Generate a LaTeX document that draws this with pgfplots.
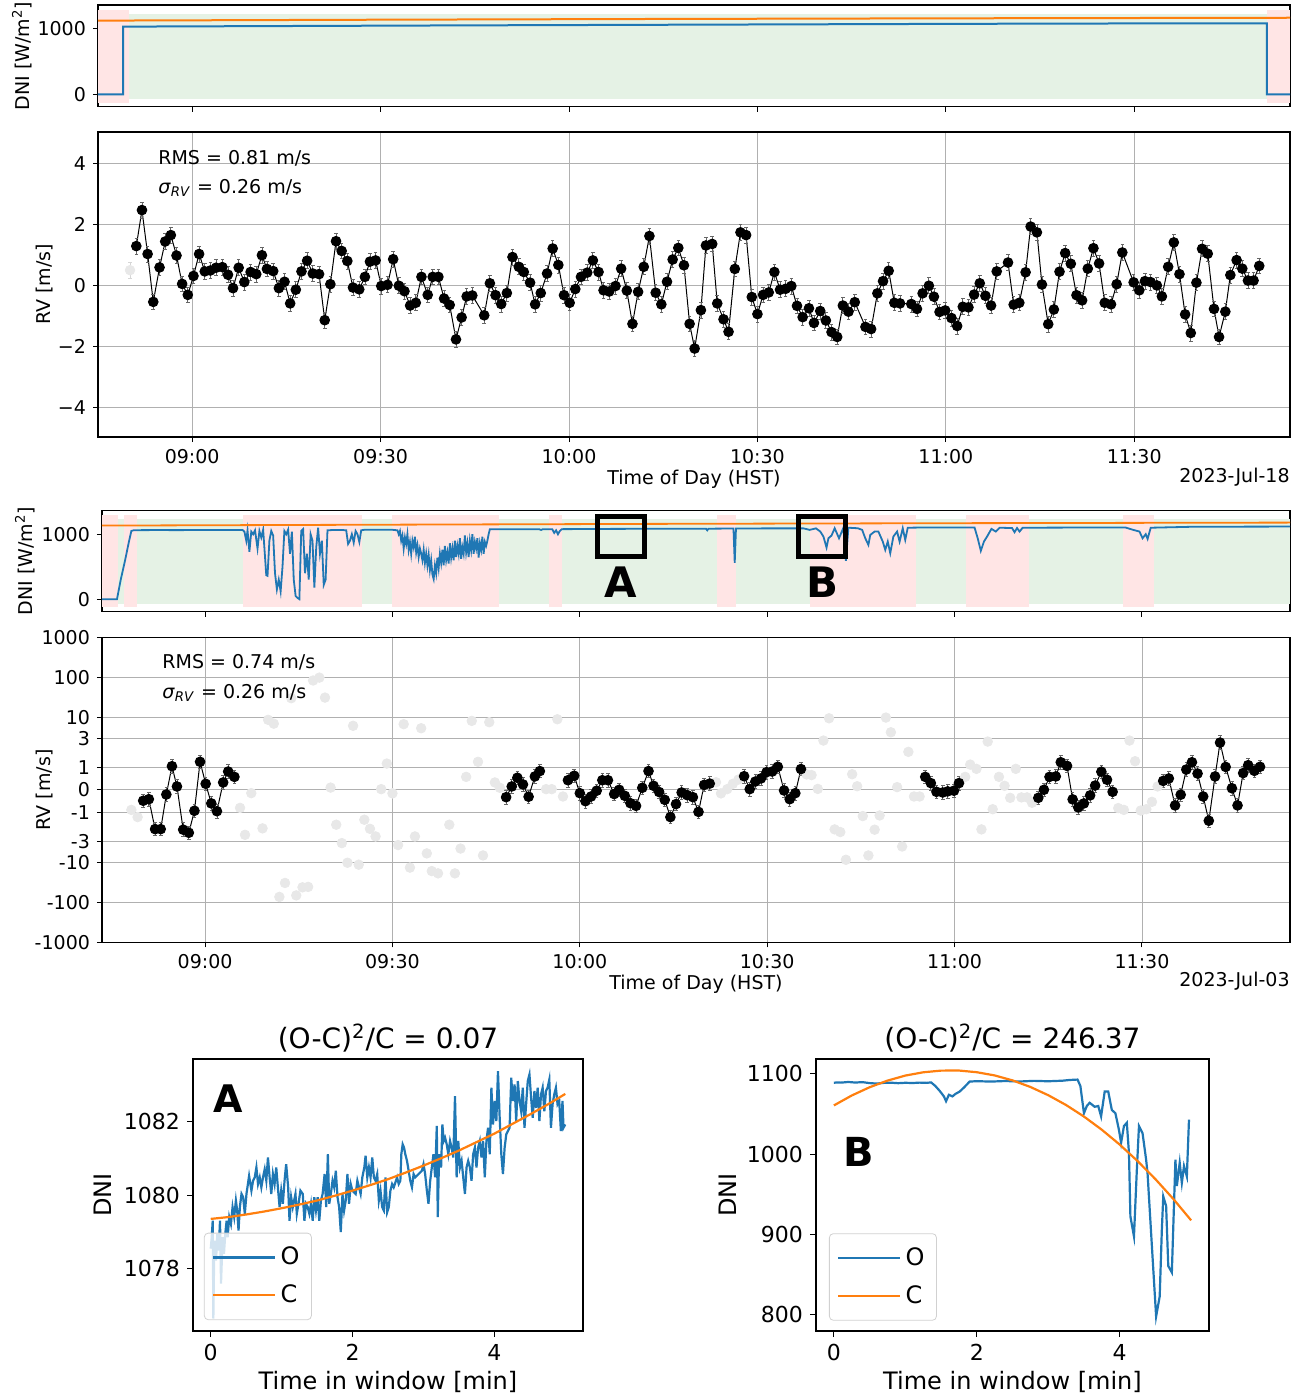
\documentclass[border=0pt]{standalone}
\usepackage{fontspec}
\setmainfont{DejaVu Sans}
\usepackage{pgfplots}
\pgfplotsset{compat=1.18}
\definecolor{mplblue}{HTML}{1F77B4}
\definecolor{mplorange}{HTML}{FF7F0E}
\definecolor{bandred}{HTML}{FFE5E5}
\definecolor{bandgreen}{HTML}{E5F2E5}
\definecolor{gridgray}{HTML}{B0B0B0}
\pgfplotsset{
  mpl/.style={scale only axis, anchor=north west, axis line style={line width=0.6pt},
    tick align=outside, major tick length=2.5pt, tick style={black, line width=0.5pt},
    xtick pos=bottom, ytick pos=left,
    tick label style={font=\fontsize{9.5}{11}\selectfont},
    label style={font=\fontsize{9.5}{11}\selectfont},
    /pgf/number format/assume math mode=true, /pgf/number format/1000 sep={},
    grid style={gridgray, line width=0.4pt}},
  timeax/.style={xtick={60,90,120,150,180,210}},
  timelab/.style={xticklabels={09:00,09:30,10:00,10:30,11:00,11:30}},
  mplb/.style={scale only axis, anchor=north west, axis line style={line width=0.6pt},
    tick align=outside, major tick length=3pt, tick style={black, line width=0.5pt},
    xtick pos=bottom, ytick pos=left,
    tick label style={font=\fontsize{11}{13}\selectfont},
    label style={font=\fontsize{12}{14}\selectfont},
    title style={font=\fontsize{14}{16}\selectfont},
    /pgf/number format/assume math mode=true, /pgf/number format/1000 sep={},
    legend cell align=left,
    legend image code/.code={\draw[##1, line width=1pt] (0pt,0pt) -- (25pt,0pt); \path (0pt,0pt) -- (31pt,0pt);},
    legend style={anchor=south west, draw=black!18, rounded corners=2pt, fill=white,
      fill opacity=0.8, text opacity=1, font=\fontsize{12}{14}\selectfont,
      row sep=4.5pt, inner xsep=4pt, inner ysep=5pt}},
  rvpt/.style={black, line width=0.5pt, mark=*, mark size=2.4pt, mark options={solid, fill=black},
    error bars/.cd, y dir=both, y fixed=#1,
    error bar style={black!60, line width=0.4pt},
    error mark options={rotate=90, black!60, mark size=0.9pt, line width=0.4pt}, /pgfplots/.cd},
  rvpt/.default=0.26,
  graypt/.style={only marks, black!9, mark=*, mark size=2.4pt, mark options={fill=black!9, draw=black!9},
    error bars/.cd, y dir=both, y fixed=#1,
    error bar style={black!16, line width=0.4pt},
    error mark options={rotate=90, black!16, mark size=0.8pt}, /pgfplots/.cd},
  graypt/.default=0.26,
}
\begin{document}
\begin{tikzpicture}
\path[use as bounding box] (0,0) rectangle (652pt,-699.5pt);

% ---------------- DNI 2023-Jul-18 ----------------
\begin{axis}[mpl, timeax, xticklabels={}, at={(49pt,-2.5pt)}, width=596pt, height=50.85pt,
  xmin=45, xmax=234.8, ymin=-190, ymax=1367, ytick={0,1000}, yticklabels={0,1000},
  ylabel={DNI [W/m\textsuperscript{2}]},
  ylabel style={at={(axis description cs:-0.0638,0.5)}, anchor=center}]
\addplot[fill=bandred, draw=none] coordinates {(45,-128) (45,1291) (50.0,1291) (50.0,-128)} -- cycle;
\addplot[fill=bandgreen, draw=none] coordinates {(50.0,-72) (50.0,1230) (231.1,1230) (231.1,-72)} -- cycle;
\addplot[fill=bandred, draw=none] coordinates {(231.1,-128) (231.1,1291) (234.8,1291) (234.8,-128)} -- cycle;
\addplot[mplblue, line width=1pt] coordinates {(45,0) (49.0,0) (49.0,1036) (60,1040) (80,1047) (100,1054) (120,1060) (140,1066) (160,1072) (180,1078) (200,1083) (220,1086) (231.1,1087) (231.1,0) (234.8,0)};
\addplot[mplorange, line width=1pt] coordinates {(45,1128) (90,1142) (133,1153) (180,1163) (234.8,1172)};
\end{axis}

% ---------------- RV 2023-Jul-18 ----------------
\begin{axis}[mpl, timeax, timelab, at={(49pt,-66pt)}, width=596pt, height=152.5pt,
  xmin=45, xmax=234.8, ymin=-4.97, ymax=5.03, clip=false,
  ytick={-4,-2,0,2,4}, yticklabels={−4,−2,0,2,4}, grid=major,
  ylabel={RV [m/s]}, ylabel style={at={(axis description cs:-0.0445,0.5)}, anchor=center},
  xlabel={Time of Day (HST)}, xlabel style={at={(axis description cs:0.5,-0.140)}, anchor=center}]
\addplot[graypt] coordinates {(50.1,0.50)};
\addplot[rvpt] table {
t v
51.1 1.29
52.0 2.47
52.9 1.03
53.8 -0.54
54.8 0.59
55.7 1.44
56.6 1.65
57.5 0.98
58.4 0.05
59.3 -0.31
60.2 0.31
61.1 1.03
62.0 0.46
62.9 0.49
63.8 0.58
64.8 0.60
65.7 0.35
66.5 -0.09
67.4 0.58
68.3 0.11
69.3 0.44
70.2 0.37
71.1 0.99
71.9 0.54
72.9 0.47
73.8 -0.09
74.7 0.12
75.6 -0.59
76.5 -0.14
77.4 0.46
78.3 0.81
79.2 0.39
80.2 0.37
81.1 -1.14
82.0 0.04
82.9 1.45
83.8 1.13
84.7 0.80
85.6 -0.07
86.6 -0.13
87.5 0.28
88.3 0.78
89.2 0.82
90.1 -0.02
91.1 0.02
92.0 0.86
92.9 -0.01
93.8 -0.19
94.7 -0.66
95.6 -0.57
96.5 0.28
97.5 -0.31
98.3 0.28
99.2 0.28
100.1 -0.43
101.0 -0.64
102.0 -1.77
102.9 -1.05
103.7 -0.36
104.6 -0.33
106.5 -0.98
107.4 0.07
108.3 -0.32
109.2 -0.61
110.1 -0.25
111.0 0.93
112.0 0.61
112.8 0.44
113.8 0.09
114.6 -0.62
115.5 -0.25
116.5 0.39
117.4 1.21
118.3 0.67
119.2 -0.32
120.1 -0.57
121.0 -0.12
121.9 0.28
122.9 0.42
123.8 0.82
124.7 0.44
125.5 -0.16
126.4 -0.20
127.4 -0.02
128.3 0.55
129.2 -0.17
130.1 -1.26
131.0 -0.21
131.9 0.61
132.8 1.62
133.8 -0.24
134.7 -0.62
135.6 0.12
136.5 0.85
137.4 1.23
138.3 0.66
139.2 -1.26
140.0 -2.07
141.0 -0.81
141.8 1.31
142.8 1.36
143.6 -0.59
144.6 -1.11
145.4 -1.52
146.4 0.54
147.3 1.74
148.2 1.65
149.1 -0.38
150.0 -0.94
150.9 -0.31
151.8 -0.23
152.7 0.44
153.6 -0.14
154.5 -0.11
155.4 -0.02
156.3 -0.67
157.2 -1.04
158.2 -0.75
159.0 -1.23
160.0 -0.84
160.9 -1.15
161.8 -1.53
162.7 -1.69
163.6 -0.66
164.5 -0.86
165.5 -0.55
167.2 -1.36
168.1 -1.43
169.1 -0.26
170.0 0.14
170.9 0.48
171.8 -0.57
172.7 -0.59
174.5 -0.61
175.4 -0.77
176.3 -0.26
177.3 -0.01
178.1 -0.37
179.0 -0.87
179.9 -0.82
180.9 -1.07
181.8 -1.33
182.7 -0.70
183.6 -0.72
184.5 -0.30
185.4 0.07
186.3 -0.34
187.2 -0.66
188.1 0.46
189.9 0.75
190.8 -0.63
191.7 -0.57
192.7 0.43
193.5 1.93
194.5 1.74
195.3 0.03
196.3 -1.27
197.2 -0.79
198.1 0.45
199.0 1.06
199.9 0.71
200.8 -0.32
201.7 -0.49
202.6 0.55
203.5 1.22
204.4 0.72
205.3 -0.57
206.3 -0.62
207.2 0.04
208.1 1.08
209.9 0.10
210.8 -0.16
211.7 0.14
212.6 0.11
213.6 0.00
214.4 -0.36
215.4 0.61
216.3 1.41
217.2 0.37
218.1 -0.95
219.0 -1.56
219.9 0.09
220.8 1.20
221.7 1.04
222.7 -0.77
223.5 -1.69
224.5 -0.86
225.3 0.34
226.3 0.83
227.2 0.55
228.1 0.16
229.0 0.16
229.9 0.64
};
\node[anchor=west, inner xsep=0pt, font=\fontsize{9.5}{11}\selectfont] at (axis description cs:0.0503,0.915) {RMS = 0.81 m/s};
\node[anchor=west, inner xsep=0pt, font=\fontsize{9.5}{11}\selectfont] at (axis description cs:0.0503,0.817) {\textit{σ}\textsubscript{\textit{RV}} = 0.26 m/s};
\node[anchor=east, inner xsep=0pt, font=\fontsize{9.5}{11}\selectfont] at (axis description cs:1,-0.131) {2023-Jul-18};
\end{axis}

% ---------------- DNI 2023-Jul-03 ----------------
\begin{axis}[mpl, timeax, xticklabels={}, at={(51pt,-255.35pt)}, width=594pt, height=50.5pt,
  xmin=43.5, xmax=233.7, ymin=-193, ymax=1362, clip=false, ytick={0,1000}, yticklabels={0,1000},
  ylabel={DNI [W/m\textsuperscript{2}]},
  ylabel style={at={(axis description cs:-0.0648,0.5)}, anchor=center}]
\addplot[fill=bandred, draw=none] coordinates {(43.5,-122) (43.5,1291) (46.1,1291) (46.1,-122)} -- cycle;
\addplot[fill=bandred, draw=none] coordinates {(47.0,-122) (47.0,1291) (49.1,1291) (49.1,-122)} -- cycle;
\addplot[fill=bandred, draw=none] coordinates {(66.0,-122) (66.0,1291) (85.1,1291) (85.1,-122)} -- cycle;
\addplot[fill=bandred, draw=none] coordinates {(90.0,-122) (90.0,1291) (107.0,1291) (107.0,-122)} -- cycle;
\addplot[fill=bandred, draw=none] coordinates {(115.0,-122) (115.0,1291) (117.1,1291) (117.1,-122)} -- cycle;
\addplot[fill=bandred, draw=none] coordinates {(141.9,-122) (141.9,1291) (145.0,1291) (145.0,-122)} -- cycle;
\addplot[fill=bandred, draw=none] coordinates {(156.9,-122) (156.9,1291) (173.9,1291) (173.9,-122)} -- cycle;
\addplot[fill=bandred, draw=none] coordinates {(181.9,-122) (181.9,1291) (191.9,1291) (191.9,-122)} -- cycle;
\addplot[fill=bandred, draw=none] coordinates {(206.9,-122) (206.9,1291) (211.9,1291) (211.9,-122)} -- cycle;
\addplot[fill=bandgreen, draw=none] coordinates {(46.1,-72) (46.1,1230) (47.0,1230) (47.0,-72)} -- cycle;
\addplot[fill=bandgreen, draw=none] coordinates {(49.1,-72) (49.1,1230) (66.0,1230) (66.0,-72)} -- cycle;
\addplot[fill=bandgreen, draw=none] coordinates {(85.1,-72) (85.1,1230) (90.0,1230) (90.0,-72)} -- cycle;
\addplot[fill=bandgreen, draw=none] coordinates {(107.0,-72) (107.0,1230) (115.0,1230) (115.0,-72)} -- cycle;
\addplot[fill=bandgreen, draw=none] coordinates {(117.1,-72) (117.1,1230) (141.9,1230) (141.9,-72)} -- cycle;
\addplot[fill=bandgreen, draw=none] coordinates {(145.0,-72) (145.0,1230) (156.9,1230) (156.9,-72)} -- cycle;
\addplot[fill=bandgreen, draw=none] coordinates {(173.9,-72) (173.9,1230) (181.9,1230) (181.9,-72)} -- cycle;
\addplot[fill=bandgreen, draw=none] coordinates {(191.9,-72) (191.9,1230) (206.9,1230) (206.9,-72)} -- cycle;
\addplot[fill=bandgreen, draw=none] coordinates {(211.9,-72) (211.9,1230) (233.7,1230) (233.7,-72)} -- cycle;
\addplot[mplblue, line width=0.9pt] table {
t d
43.5 0
45.9 0
46.5 300
47.2 600
47.8 880
48.2 1050
48.6 1062
52 1064
56 1063
60 1066
63 1065
66.0 1066
66.3 1040
66.6 900
66.8 1060
67.1 730
67.4 1040
67.7 1000
68.0 1060
68.4 780
68.7 1050
69.0 950
69.3 1070
69.6 650
69.8 370
70.0 360
70.3 900
70.6 1050
70.9 980
71.2 400
71.5 150
71.8 300
72.1 120
72.4 500
72.7 1050
73.0 1000
73.3 1070
73.6 700
73.9 1040
74.2 300
74.5 50
74.8 20
75.1 0
75.4 1050
75.7 1080
76.0 400
76.3 700
76.6 300
76.9 1000
77.2 900
77.5 180
77.8 800
78.1 1100
78.4 700
78.7 900
79.0 220
79.3 300
79.6 1060
80.5 1065
82.0 1065
82.6 1060
82.9 850
83.2 900
83.5 1000
83.8 870
84.1 1050
84.4 1000
84.7 880
85.0 1060
85.5 1068
90.0 1068
90.8 1060
91.0 1000
91.2 1050
91.4 900
91.6 980
91.8 780
92.0 950
92.2 850
92.4 1000
92.6 760
92.8 880
93.0 700
93.2 900
93.4 800
93.6 960
93.8 720
94.0 830
94.2 650
94.4 780
94.6 700
94.8 600
95.0 760
95.2 560
95.4 700
95.6 520
95.8 680
96.0 450
96.2 600
96.4 380
96.6 310
96.8 520
97.0 400
97.2 640
97.4 480
97.6 700
97.8 560
98.0 760
98.2 520
98.4 820
98.6 600
98.8 720
99.0 550
99.2 860
99.4 640
99.6 780
99.8 600
100.0 900
100.2 650
100.4 820
100.6 700
100.8 940
101.0 620
101.2 800
101.4 700
101.6 980
101.8 720
102.0 860
102.2 650
102.4 900
102.6 760
102.8 1000
103.0 700
103.2 880
103.4 780
103.6 940
103.8 640
104.0 860
104.2 760
104.4 960
104.6 700
104.8 880
105.0 820
105.2 900
105.4 1000
105.6 1078
110 1078
113.5 1077
113.8 1065
114.1 1078
115.6 1076
115.9 1020
116.2 1060
116.5 1000
116.8 1050
117.1 1078
125 1082
135 1085
140.2 1085
140.4 1060
140.6 1085
144.6 1088
144.8 560
145.0 1088
150 1090
155.8 1090
156.8 1067
157.8 1090
158.5 1041
159.0 964
159.5 795
159.8 938
160.3 980
160.8 1092
161.5 938
162.2 1100
162.6 590
163.0 1100
164.5 1092
165.2 1067
165.7 938
166.2 836
166.5 990
167.2 1041
167.8 1041
168.5 887
168.9 759
169.3 887
169.7 708
170.2 964
170.8 1041
171.2 887
171.7 1092
172.1 913
172.5 1100
173.9 1102
183.2 1102
183.7 938
184.2 744
184.7 887
185.2 964
185.9 1082
186.6 1041
187.2 1100
189.2 1095
189.6 1031
190.0 1095
190.4 1041
190.9 1100
207.3 1105
208.6 1067
209.6 1041
210.1 938
210.6 1000
210.9 928
211.4 1100
218.2 1115
233.7 1118
};
\addplot[mplorange, line width=0.9pt] coordinates {(43.5,1133) (90,1147) (131,1159) (180,1170) (233.7,1179)};
\draw[line width=2.5pt] (axis cs:122.8,657) rectangle (axis cs:130.3,1273);
\draw[line width=2.5pt] (axis cs:155.0,657) rectangle (axis cs:162.5,1273);
\node[font=\fontsize{21}{24}\selectfont\bfseries] at (axis cs:126.6,264) {A};
\node[font=\fontsize{21}{24}\selectfont\bfseries] at (axis cs:158.8,264) {B};
\end{axis}

% ---------------- RV 2023-Jul-03 (custom symmetric scale) ----------------
\begin{axis}[mpl, timeax, timelab, name=rvb, at={(51pt,-318.65pt)}, width=594pt, height=152.5pt,
  xmin=43.5, xmax=233.7, ymin=-1000, ymax=1000, clip=false,
  y coord trafo/.code={\pgfmathparse{((#1>0)-(#1<0))*((abs(#1)<1.000001)*0.558*abs(#1)+(1-(abs(#1)<1.000001))*(abs(#1)<3.000001)*(0.558+0.3667*(abs(#1)-1))+(1-(abs(#1)<3.000001))*(0.4342945*ln(max(abs(#1),3))+0.8167))}},
  ytick={-1000,-100,-10,-3,-1,0,1,3,10,100,1000},
  yticklabels={-1000,-100,-10,-3,-1,0,1,3,10,100,1000}, grid=major,
  ylabel={RV [m/s]}, ylabel style={at={(axis description cs:-0.048,0.5)}, anchor=center},
  xlabel={Time of Day (HST)}, xlabel style={at={(axis description cs:0.5,-0.136)}, anchor=center}]
\addplot[graypt=0.09] table {
t v
48.2 -0.90
49.2 -1.34
65.6 -0.81
66.4 -2.55
67.4 -0.15
69.2 -2.11
70.1 8.6
71.0 6.9
71.9 -73
72.8 -32.7
73.8 29.9
74.6 -67
75.6 -42
76.5 -41
77.3 83
78.3 98
79.2 31
80.1 0.10
81.0 -1.86
81.9 -3.29
82.8 -10.2
83.7 6.1
84.6 -11.4
85.5 -1.52
86.4 -2.14
87.3 -2.66
88.2 0.03
89.1 1.27
90.0 -0.16
90.9 -3.68
91.8 6.7
92.8 -13.5
93.6 -2.66
94.6 5.3
95.5 -5.95
96.3 -16.5
97.3 -18.8
99.1 -1.86
100.0 -18.8
100.9 -4.5
101.8 0.58
102.7 8.1
103.7 1.39
104.5 -6.7
105.5 7.5
106.4 0.33
107.2 0.09
114.6 0.03
115.5 0.03
116.4 8.9
117.3 -0.30
141.8 0.34
142.6 -0.16
143.6 0.03
144.5 0.27
145.4 0.46
156.3 0.69
157.1 0.66
158.1 0.04
159.0 2.84
159.9 9.4
160.8 -2.18
161.7 -2.36
162.6 -8.6
163.6 0.70
164.4 0.16
165.3 -1.27
166.2 -6.7
167.2 -2.20
168.0 -1.23
169.0 9.8
169.8 4.2
170.8 0.12
171.6 -4.0
172.6 2.07
173.5 -0.30
174.4 -0.30
181.7 0.58
182.5 1.2
183.5 0.94
184.3 -2.18
185.3 2.77
186.1 -0.87
187.1 0.58
188.0 0.18
188.9 -0.36
189.8 0.94
190.7 -0.34
191.6 -0.34
192.4 -0.58
206.2 -0.82
207.1 -0.90
208.0 2.84
208.9 1.43
209.8 -0.93
210.7 -0.87
211.6 -0.54
212.5 0.15
};
\addplot[rvpt=0.17] coordinates {(50.1,-0.49) (51.0,-0.42) (52.0,-2.16) (52.9,-2.16) (53.8,-0.21) (54.7,1.09) (55.5,0.15) (56.5,-2.20) (57.4,-2.41) (58.3,-0.94) (59.2,1.39) (60.1,0.27) (61.0,-0.61) (61.9,-0.96) (62.9,0.33) (63.7,0.82) (64.7,0.58)};
\addplot[rvpt=0.17] coordinates {(108.2,-0.33) (109.1,0.15) (110.0,0.54) (110.9,0.24) (111.8,-0.31) (112.8,0.60) (113.6,0.84)};
\addplot[rvpt=0.17] coordinates {(118.1,0.43) (119.1,0.63) (120.0,-0.15) (120.9,-0.51) (121.8,-0.30) (122.7,-0.04) (123.6,0.43) (124.5,0.43) (125.5,-0.19) (126.3,0.0) (127.2,-0.27) (128.1,-0.60) (129.0,-0.72) (130.0,0.09) (131.0,0.84) (131.8,0.18) (132.7,-0.10) (133.6,-0.45) (134.5,-1.34) (135.4,-0.64) (136.3,-0.12) (137.2,-0.24) (138.1,-0.33) (139.0,-0.99) (139.9,0.22) (140.8,0.28)};
\addplot[rvpt=0.17] coordinates {(146.3,0.61) (147.2,0.03) (148.1,0.37) (149.0,0.51) (149.9,0.79) (150.8,0.82) (151.7,1.05) (152.7,-0.03) (153.6,-0.42) (154.5,-0.15) (155.4,0.93)};
\addplot[rvpt=0.17] coordinates {(175.3,0.58) (176.2,0.30) (177.1,-0.09) (178.1,-0.12) (178.9,-0.07) (179.9,-0.04) (180.7,0.30)};
\addplot[rvpt=0.17] coordinates {(193.4,-0.36) (194.3,0.0) (195.2,0.58) (196.2,0.60) (197.0,1.36) (198.0,1.11) (198.9,-0.43) (199.8,-0.79) (200.7,-0.61) (201.7,-0.25) (202.5,0.19) (203.5,0.81) (204.4,0.45) (205.3,-0.09)};
\addplot[rvpt=0.17] coordinates {(213.4,0.40) (214.3,0.51) (215.3,-0.70) (216.2,-0.22) (217.1,0.91) (218.0,1.36) (218.9,0.73) (219.8,-0.30) (220.7,-1.59) (221.7,0.60) (222.5,2.70) (223.4,1.04) (224.4,0.07) (225.3,-0.70) (226.2,0.75) (227.0,1.16) (228.0,0.85) (228.9,1.05)};
\node[anchor=east, inner xsep=0pt, font=\fontsize{9.5}{11}\selectfont] at (axis description cs:1,-0.127) {2023-Jul-03};
\end{axis}
\node[anchor=west, inner xsep=0pt, font=\fontsize{9.5}{11}\selectfont] at ([xshift=30pt, yshift=-12.5pt]rvb.north west) {RMS = 0.74 m/s};
\node[anchor=west, inner xsep=0pt, font=\fontsize{9.5}{11}\selectfont] at ([xshift=30pt, yshift=-27.9pt]rvb.north west) {\textit{σ}\textsubscript{\textit{RV}} = 0.26 m/s};

% ---------------- Window A ----------------
\begin{axis}[mplb, at={(96.5pt,-529.5pt)}, width=195pt, height=136pt,
  xmin=-0.25, xmax=5.25, ymin=1076.3, ymax=1083.7, xtick={0,2,4}, ytick={1078,1080,1082},
  xlabel={Time in window [min]}, xlabel style={at={(axis description cs:0.5,-0.1875)}, anchor=center},
  ylabel={DNI}, ylabel style={at={(axis description cs:-0.231,0.5)}, anchor=center},
  title={(O-C)\textsuperscript{2}/C = 0.07}, title style={at={(axis description cs:0.5,1.077)}, anchor=center, yshift=-6pt},
  legend style={at={(0.028,0.04)}}]
\addplot[mplblue, line width=1.1pt] table {
t d
0.000 1078.54
0.014 1078.85
0.028 1079.30
0.037 1076.64
0.051 1078.76
0.075 1078.22
0.093 1078.94
0.112 1078.49
0.131 1079.30
0.145 1077.59
0.168 1078.85
0.187 1078.40
0.205 1078.94
0.224 1079.30
0.238 1078.85
0.261 1079.40
0.285 1079.21
0.308 1079.67
0.331 1079.40
0.355 1079.85
0.373 1079.58
0.392 1079.03
0.411 1079.67
0.434 1080.03
0.457 1079.94
0.481 1079.49
0.504 1080.03
0.541 1080.52
0.574 1080.12
0.597 1080.39
0.621 1080.48
0.644 1080.75
0.667 1080.30
0.691 1080.48
0.714 1080.21
0.737 1080.48
0.761 1080.70
0.784 1080.39
0.807 1081.02
0.831 1080.48
0.854 1080.03
0.877 1080.57
0.901 1080.30
0.924 1080.75
0.947 1080.21
0.971 1079.67
0.994 1080.12
1.017 1079.76
1.041 1080.39
1.064 1080.84
1.092 1080.21
1.111 1079.30
1.134 1079.94
1.157 1079.67
1.195 1080.03
1.214 1079.49
1.241 1079.80
1.265 1080.12
1.298 1080.03
1.321 1079.30
1.344 1079.76
1.368 1079.67
1.391 1079.49
1.414 1079.76
1.438 1079.30
1.461 1079.94
1.484 1079.58
1.508 1079.94
1.531 1079.30
1.554 1079.85
1.578 1080.03
1.606 1080.57
1.629 1079.67
1.652 1081.11
1.671 1079.76
1.694 1080.03
1.718 1080.39
1.741 1080.21
1.764 1080.66
1.788 1079.94
1.811 1079.67
1.834 1078.99
1.858 1080.03
1.881 1079.58
1.904 1079.85
1.928 1080.57
1.951 1079.76
1.974 1080.30
1.998 1080.12
2.044 1080.03
2.068 1080.39
2.091 1080.21
2.114 1080.03
2.138 1080.48
2.166 1080.75
2.184 1081.07
2.208 1080.48
2.231 1080.75
2.254 1080.48
2.278 1081.02
2.301 1080.48
2.324 1080.39
2.348 1080.57
2.371 1079.85
2.394 1080.12
2.418 1079.67
2.441 1079.58
2.464 1080.48
2.488 1079.53
2.511 1079.67
2.534 1080.12
2.558 1080.30
2.581 1080.21
2.604 1080.34
2.628 1080.48
2.651 1080.30
2.674 1080.39
2.688 1081.11
2.707 1081.38
2.726 1081.29
2.744 1081.11
2.768 1080.93
2.791 1080.66
2.814 1080.39
2.838 1080.21
2.861 1080.57
2.884 1080.48
2.931 1080.57
2.978 1080.66
3.001 1080.84
3.024 1080.57
3.048 1080.12
3.071 1079.76
3.095 1080.39
3.118 1080.75
3.141 1081.11
3.165 1080.48
3.188 1081.88
3.202 1079.40
3.221 1081.11
3.249 1080.75
3.267 1081.92
3.286 1081.47
3.305 1081.56
3.328 1081.38
3.351 1081.11
3.375 1081.47
3.398 1081.29
3.421 1081.02
3.445 1082.69
3.468 1080.48
3.491 1081.47
3.515 1080.75
3.538 1080.93
3.561 1080.48
3.585 1080.03
3.608 1080.75
3.631 1080.93
3.655 1080.75
3.678 1080.39
3.701 1081.11
3.725 1081.29
3.748 1080.75
3.771 1081.29
3.795 1081.47
3.818 1081.02
3.841 1081.47
3.865 1080.48
3.888 1081.47
3.911 1081.83
3.935 1081.11
3.958 1082.92
3.981 1081.92
4.005 1082.56
4.028 1082.01
4.051 1083.37
4.075 1082.10
4.098 1081.11
4.121 1080.57
4.145 1081.29
4.168 1081.65
4.191 1081.74
4.215 1081.83
4.238 1083.19
4.261 1082.56
4.285 1083.01
4.308 1082.01
4.331 1083.10
4.355 1082.56
4.378 1082.28
4.401 1082.92
4.425 1081.83
4.448 1082.47
4.471 1083.10
4.495 1083.28
4.518 1082.65
4.541 1082.10
4.565 1082.83
4.588 1082.37
4.611 1082.92
4.635 1082.01
4.658 1082.74
4.681 1082.92
4.705 1082.28
4.728 1082.83
4.751 1082.92
4.775 1083.14
4.798 1081.83
4.821 1082.47
4.845 1082.74
4.868 1082.92
4.891 1082.47
4.915 1082.56
4.938 1081.74
4.961 1082.56
4.975 1081.83
5.000 1081.92
};
\addlegendentry{O}
\addplot[mplorange, line width=1.1pt] coordinates {(0,1079.35) (0.25,1079.40) (0.5,1079.47) (0.75,1079.55) (1.0,1079.64) (1.25,1079.74) (1.5,1079.85) (1.75,1079.98) (2.0,1080.12) (2.25,1080.27) (2.5,1080.43) (2.75,1080.61) (3.0,1080.80) (3.25,1081.00) (3.5,1081.21) (3.75,1081.44) (4.0,1081.67) (4.25,1081.93) (4.5,1082.19) (4.75,1082.46) (5.0,1082.75)};
\addlegendentry{C}
\node[font=\fontsize{19}{22}\selectfont\bfseries] at (axis cs:0.244,1082.61) {A};
\end{axis}

% ---------------- Window B ----------------
\begin{axis}[mplb, at={(408pt,-529.5pt)}, width=196.5pt, height=136pt,
  xmin=-0.25, xmax=5.25, ymin=778.8, ymax=1118.7, xtick={0,2,4}, ytick={800,900,1000,1100},
  xlabel={Time in window [min]}, xlabel style={at={(axis description cs:0.5,-0.1875)}, anchor=center},
  ylabel={DNI}, ylabel style={at={(axis description cs:-0.224,0.5)}, anchor=center},
  title={(O-C)\textsuperscript{2}/C = 246.37}, title style={at={(axis description cs:0.5,1.077)}, anchor=center, yshift=-6pt},
  legend style={at={(0.033,0.038)}}]
\addplot[mplblue, line width=1.1pt] table {
t d
0.00 1089.0
0.05 1089.5
0.10 1089.2
0.20 1090.0
0.30 1089.3
0.40 1089.8
0.50 1088.6
0.60 1088.0
0.70 1088.9
0.80 1089.1
0.90 1088.5
1.00 1089.0
1.10 1088.7
1.20 1089.2
1.30 1088.9
1.36 1089.5
1.42 1085
1.48 1079
1.54 1072
1.57 1066
1.61 1074
1.66 1072
1.70 1075
1.76 1078
1.82 1083
1.90 1090.5
2.00 1091
2.20 1090.5
2.40 1091.2
2.60 1090.6
2.80 1091.4
3.00 1090.9
3.20 1091.6
3.30 1092.5
3.41 1093
3.45 1085
3.50 1051
3.54 1060
3.58 1064
3.65 1059
3.70 1060
3.74 1047
3.79 1078
3.84 1078
3.89 1055
3.94 1051
3.99 1030
4.02 1014
4.06 1035
4.10 1039
4.13 1001
4.15 922
4.20 897
4.24 980
4.27 1035
4.32 1026
4.37 993
4.39 976
4.44 901
4.51 797
4.56 822
4.59 905
4.61 947
4.65 935
4.68 860
4.73 852
4.78 993
4.80 960
4.84 989
4.87 964
4.90 985
4.94 972
4.97 1043
};
\addlegendentry{O}
\addplot[mplorange, line width=1.1pt] coordinates {(0,1060.7) (0.25,1073.1) (0.5,1083.4) (0.75,1091.7) (1.0,1098.0) (1.25,1102.1) (1.5,1104.2) (1.75,1104.3) (2.0,1102.2) (2.25,1098.2) (2.5,1092.0) (2.75,1083.8) (3.0,1073.5) (3.25,1061.2) (3.5,1046.8) (3.75,1030.3) (4.0,1011.8) (4.25,991.2) (4.5,968.6) (4.75,943.9) (5.0,917.1)};
\addlegendentry{C}
\node[font=\fontsize{20}{23}\selectfont\bfseries] at (axis cs:0.345,1003.1) {B};
\end{axis}
\end{tikzpicture}
\end{document}
